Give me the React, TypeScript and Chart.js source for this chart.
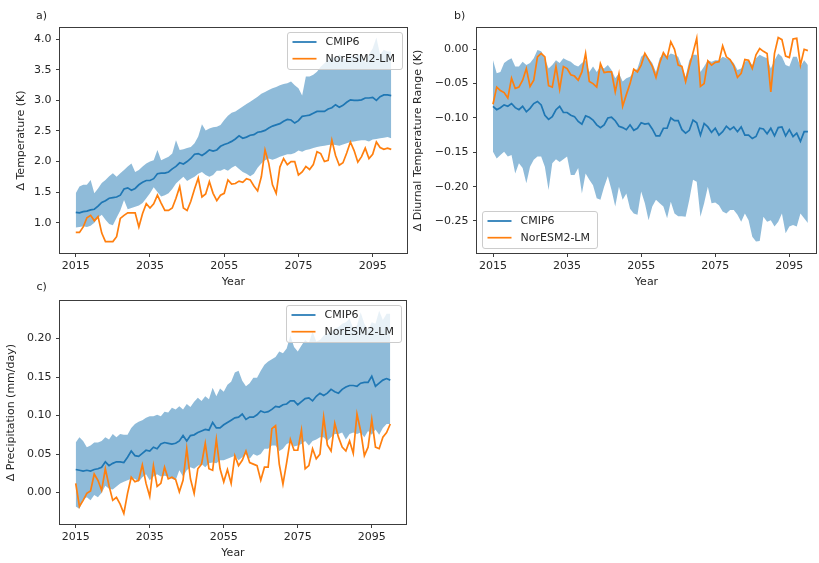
import React, { useEffect, useRef } from 'react';
import { Chart, registerables } from 'chart.js';

Chart.register(...registerables);

const FONT = 'DejaVu Sans';
const TEXT = '#262626';
const BLUE = '#1f77b4';
const ORANGE = '#ff7f0e';
const BAND = 'rgba(31,119,180,0.5)';

const YEARS = [
  2015, 2016, 2017, 2018, 2019, 2020, 2021, 2022, 2023, 2024,
  2025, 2026, 2027, 2028, 2029, 2030, 2031, 2032, 2033, 2034,
  2035, 2036, 2037, 2038, 2039, 2040, 2041, 2042, 2043, 2044,
  2045, 2046, 2047, 2048, 2049, 2050, 2051, 2052, 2053, 2054,
  2055, 2056, 2057, 2058, 2059, 2060, 2061, 2062, 2063, 2064,
  2065, 2066, 2067, 2068, 2069, 2070, 2071, 2072, 2073, 2074,
  2075, 2076, 2077, 2078, 2079, 2080, 2081, 2082, 2083, 2084,
  2085, 2086, 2087, 2088, 2089, 2090, 2091, 2092, 2093, 2094,
  2095, 2096, 2097, 2098, 2099, 2100,
];
const X_TICKS = [2015, 2035, 2055, 2075, 2095];
const LEGEND_LABELS = ['CMIP6', 'NorESM2-LM'];

// Panel a) Δ Temperature (K)
const TEMP_TICKS = [1.0, 1.5, 2.0, 2.5, 3.0, 3.5, 4.0];
const TEMP_MEAN = [
  1.17, 1.16, 1.18, 1.19, 1.21, 1.22, 1.27, 1.33, 1.36, 1.40,
  1.41, 1.42, 1.45, 1.55, 1.57, 1.53, 1.56, 1.62, 1.66, 1.69,
  1.69, 1.72, 1.80, 1.81, 1.81, 1.83, 1.88, 1.92, 1.98, 1.96,
  2.00, 2.05, 2.12, 2.13, 2.10, 2.14, 2.19, 2.17, 2.19, 2.25,
  2.28, 2.30, 2.33, 2.37, 2.42, 2.38, 2.40, 2.43, 2.44, 2.48,
  2.49, 2.51, 2.55, 2.58, 2.60, 2.62, 2.66, 2.69, 2.68, 2.63,
  2.67, 2.74, 2.75, 2.76, 2.79, 2.82, 2.82, 2.82, 2.86, 2.88,
  2.93, 2.89, 2.92, 2.97, 3.01, 3.00, 3.00, 3.01, 3.04, 3.04,
  3.05, 3.00, 3.06, 3.09, 3.09, 3.08,
];
const TEMP_HI = [
  1.48, 1.59, 1.62, 1.62, 1.70, 1.48, 1.56, 1.65, 1.70, 1.76,
  1.81, 1.75, 1.81, 1.86, 1.92, 1.97, 1.83, 1.86, 1.92, 1.97,
  2.00, 2.02, 2.19, 2.02, 2.05, 2.08, 2.13, 2.35, 2.19, 2.20,
  2.22, 2.24, 2.30, 2.41, 2.61, 2.51, 2.54, 2.56, 2.57, 2.60,
  2.68, 2.75, 2.80, 2.82, 2.86, 2.90, 2.94, 2.98, 3.02, 3.06,
  3.11, 3.14, 3.17, 3.20, 3.22, 3.25, 3.27, 3.28, 3.31, 3.25,
  3.20, 3.08, 3.39, 3.39, 3.42, 3.47, 3.55, 3.61, 3.66, 3.72,
  3.68, 3.75, 3.70, 3.66, 3.74, 3.70, 3.76, 3.72, 3.62, 3.75,
  3.85, 4.03, 3.75, 3.83, 3.80, 3.80,
];
const TEMP_LO = [
  0.92, 0.93, 0.94, 0.93, 0.95, 1.00, 1.08, 1.13, 1.05, 0.98,
  0.96, 1.08, 1.20, 1.37, 1.22, 1.24, 1.26, 1.28, 1.32, 1.40,
  1.48, 1.58, 1.50, 1.43, 1.45, 1.48, 1.55, 1.64, 1.70, 1.75,
  1.68, 1.72, 1.75, 1.80, 1.83, 1.78, 1.75, 1.78, 1.85, 1.85,
  1.88, 1.85, 1.90, 1.93, 1.88, 1.83, 1.80, 1.76, 1.80, 1.90,
  1.97, 2.02, 2.05, 2.03, 2.05, 2.08, 2.10, 2.12, 2.12, 2.14,
  2.18, 2.16, 2.19, 2.20, 2.22, 2.24, 2.25, 2.26, 2.27, 2.28,
  2.27, 2.26, 2.28, 2.30, 2.32, 2.33, 2.34, 2.35, 2.35, 2.33,
  2.36, 2.37, 2.38, 2.39, 2.40, 2.38,
];
const TEMP_NOR = [
  0.84, 0.84, 0.93, 1.08, 1.12, 1.03, 1.10, 0.83, 0.69, 0.69,
  0.69, 0.77, 1.07, 1.12, 1.16, 1.16, 1.16, 0.93, 1.15, 1.31,
  1.24, 1.31, 1.45, 1.32, 1.20, 1.20, 1.24, 1.40, 1.59, 1.24,
  1.20, 1.35, 1.55, 1.73, 1.42, 1.47, 1.67, 1.48, 1.36, 1.45,
  1.48, 1.70, 1.63, 1.64, 1.68, 1.66, 1.72, 1.70, 1.60, 1.52,
  1.75, 2.19, 1.97, 1.62, 1.48, 1.91, 2.05, 1.95, 2.00, 2.00,
  1.78, 1.83, 1.92, 1.87, 1.95, 2.16, 2.13, 2.00, 2.02, 2.35,
  2.10, 1.94, 1.98, 2.14, 2.32, 2.18, 1.99, 2.08, 2.22, 2.05,
  2.12, 2.32, 2.23, 2.20, 2.22, 2.20,
];

// Panel b) Δ Diurnal Temperature Range (K)
const DTR_TICKS = [-0.25, -0.2, -0.15, -0.1, -0.05, 0.0];
const DTR_MEAN = [
  -0.083, -0.088, -0.085, -0.081, -0.083, -0.079, -0.085, -0.088, -0.083, -0.091,
  -0.086, -0.079, -0.076, -0.081, -0.096, -0.102, -0.098, -0.088, -0.083, -0.092,
  -0.092, -0.096, -0.098, -0.105, -0.109, -0.097, -0.099, -0.103, -0.110, -0.114,
  -0.110, -0.100, -0.099, -0.104, -0.112, -0.114, -0.117, -0.110, -0.118, -0.115,
  -0.107, -0.109, -0.108, -0.116, -0.126, -0.126, -0.115, -0.115, -0.100, -0.104,
  -0.104, -0.117, -0.122, -0.118, -0.103, -0.107, -0.125, -0.108, -0.113, -0.121,
  -0.115, -0.125, -0.120, -0.112, -0.117, -0.113, -0.120, -0.113, -0.125, -0.125,
  -0.130, -0.127, -0.115, -0.116, -0.123, -0.115, -0.126, -0.114, -0.113, -0.126,
  -0.117, -0.127, -0.122, -0.134, -0.120, -0.120,
];
const DTR_HI = [
  -0.016, -0.035, -0.033, -0.020, -0.016, -0.013, -0.025, -0.025, -0.018, -0.023,
  -0.020, -0.013, -0.001, -0.003, -0.013, -0.028, -0.023, -0.016, -0.020, -0.013,
  -0.016, -0.018, -0.023, -0.025, -0.020, -0.016, -0.033, -0.025, -0.033, -0.025,
  -0.028, -0.023, -0.030, -0.042, -0.035, -0.047, -0.042, -0.040, -0.033, -0.028,
  -0.011, -0.006, -0.013, -0.020, -0.033, -0.013, -0.006, -0.011, -0.006, -0.008,
  -0.011, -0.025, -0.040, -0.016, -0.008, -0.008, -0.033, -0.025, -0.016, -0.018,
  -0.016, -0.016, -0.011, -0.013, -0.015, -0.020, -0.030, -0.028, -0.018, -0.016,
  -0.023, -0.013, -0.008, -0.011, -0.013, -0.028, -0.016, -0.006, -0.011, -0.023,
  -0.025, -0.011, -0.011, -0.025, -0.016, -0.023,
];
const DTR_LO = [
  -0.149, -0.159, -0.154, -0.149, -0.156, -0.154, -0.181, -0.166, -0.173, -0.195,
  -0.171, -0.161, -0.156, -0.156, -0.171, -0.205, -0.166, -0.160, -0.164, -0.160,
  -0.156, -0.183, -0.183, -0.173, -0.210, -0.181, -0.190, -0.198, -0.217, -0.219,
  -0.200, -0.185, -0.205, -0.229, -0.200, -0.219, -0.210, -0.232, -0.239, -0.241,
  -0.207, -0.224, -0.249, -0.229, -0.219, -0.224, -0.229, -0.246, -0.222, -0.239,
  -0.243, -0.243, -0.244, -0.219, -0.190, -0.193, -0.244, -0.224, -0.200, -0.224,
  -0.223, -0.227, -0.236, -0.239, -0.234, -0.234, -0.241, -0.251, -0.239, -0.249,
  -0.273, -0.280, -0.279, -0.244, -0.251, -0.249, -0.258, -0.251, -0.239, -0.268,
  -0.258, -0.256, -0.258, -0.239, -0.246, -0.253,
];
const DTR_NOR = [
  -0.080, -0.055, -0.060, -0.063, -0.071, -0.042, -0.057, -0.055, -0.045, -0.028,
  -0.054, -0.045, -0.011, -0.006, -0.011, -0.053, -0.055, -0.025, -0.058, -0.025,
  -0.028, -0.037, -0.039, -0.045, -0.033, -0.006, -0.047, -0.050, -0.055, -0.021,
  -0.034, -0.033, -0.033, -0.062, -0.036, -0.083, -0.066, -0.050, -0.029, -0.033,
  -0.023, -0.006, -0.015, -0.025, -0.041, -0.020, -0.005, -0.013, 0.011, 0.000,
  -0.023, -0.025, -0.047, -0.025, -0.005, 0.016, -0.054, -0.050, -0.017, -0.023,
  -0.019, -0.018, 0.005, -0.011, -0.015, -0.024, -0.041, -0.035, -0.015, -0.016,
  -0.028, -0.008, 0.001, -0.003, -0.006, -0.062, -0.006, 0.017, 0.014, -0.010,
  -0.012, 0.015, 0.016, -0.023, 0.000, -0.002,
];

// Panel c) Δ Precipitation (mm/day)
const PR_TICKS = [0.0, 0.05, 0.1, 0.15, 0.2];
const PR_MEAN = [
  0.030, 0.029, 0.028, 0.029, 0.028, 0.030, 0.031, 0.033, 0.040, 0.035,
  0.038, 0.040, 0.040, 0.039, 0.046, 0.054, 0.048, 0.047, 0.051, 0.055,
  0.054, 0.059, 0.057, 0.063, 0.065, 0.064, 0.063, 0.064, 0.067, 0.074,
  0.067, 0.074, 0.075, 0.078, 0.080, 0.082, 0.081, 0.091, 0.084, 0.084,
  0.088, 0.091, 0.094, 0.097, 0.098, 0.102, 0.095, 0.098, 0.098, 0.101,
  0.106, 0.104, 0.105, 0.108, 0.112, 0.111, 0.114, 0.115, 0.119, 0.119,
  0.114, 0.118, 0.122, 0.123, 0.119, 0.125, 0.129, 0.126, 0.129, 0.134,
  0.131, 0.129, 0.134, 0.137, 0.139, 0.139, 0.138, 0.142, 0.143, 0.143,
  0.151, 0.138, 0.142, 0.146, 0.148, 0.146,
];
const PR_HI = [
  0.065, 0.072, 0.067, 0.059, 0.061, 0.065, 0.065, 0.067, 0.072, 0.069,
  0.076, 0.072, 0.076, 0.075, 0.075, 0.084, 0.089, 0.092, 0.094, 0.097,
  0.099, 0.099, 0.101, 0.099, 0.105, 0.104, 0.110, 0.108, 0.112, 0.108,
  0.115, 0.111, 0.118, 0.123, 0.119, 0.125, 0.121, 0.136, 0.125, 0.135,
  0.131, 0.140, 0.144, 0.156, 0.158, 0.145, 0.138, 0.142, 0.149, 0.149,
  0.158, 0.166, 0.170, 0.173, 0.176, 0.183, 0.181, 0.187, 0.204, 0.189,
  0.183, 0.191, 0.198, 0.194, 0.209, 0.196, 0.198, 0.204, 0.206, 0.209,
  0.213, 0.215, 0.219, 0.221, 0.226, 0.213, 0.217, 0.234, 0.219, 0.211,
  0.221, 0.219, 0.236, 0.224, 0.232, 0.232,
];
const PR_LO = [
  -0.018, -0.021, -0.009, -0.006, -0.010, -0.003, -0.006, 0.000, 0.009, 0.005,
  0.004, 0.008, 0.012, 0.014, 0.016, 0.018, 0.018, 0.014, 0.020, 0.024,
  0.016, 0.021, 0.024, 0.021, 0.022, 0.021, 0.018, 0.016, 0.029, 0.021,
  0.029, 0.033, 0.031, 0.035, 0.037, 0.033, 0.038, 0.039, 0.038, 0.042,
  0.042, 0.044, 0.046, 0.048, 0.042, 0.046, 0.050, 0.044, 0.050, 0.048,
  0.050, 0.057, 0.057, 0.061, 0.061, 0.054, 0.057, 0.063, 0.065, 0.060,
  0.061, 0.063, 0.067, 0.061, 0.067, 0.069, 0.072, 0.072, 0.067, 0.072,
  0.076, 0.076, 0.078, 0.069, 0.076, 0.078, 0.076, 0.078, 0.072, 0.080,
  0.075, 0.082, 0.075, 0.084, 0.089, 0.089,
];
const PR_NOR = [
  0.012, -0.018, -0.010, -0.001, 0.002, 0.024, 0.016, 0.003, 0.031, 0.009,
  -0.010, -0.006, -0.015, -0.027, -0.001, 0.020, 0.014, 0.016, 0.036, 0.012,
  -0.005, 0.035, 0.008, 0.012, 0.033, 0.018, 0.020, 0.017, 0.001, 0.016,
  0.057, 0.018, -0.001, 0.031, 0.037, 0.064, 0.031, 0.029, 0.069, 0.031,
  0.014, 0.030, 0.012, 0.048, 0.035, 0.042, 0.054, 0.039, 0.037, 0.035,
  0.016, 0.033, 0.033, 0.083, 0.087, 0.037, 0.011, 0.039, 0.069, 0.055,
  0.055, 0.081, 0.031, 0.035, 0.057, 0.044, 0.050, 0.098, 0.062, 0.054,
  0.090, 0.072, 0.059, 0.054, 0.067, 0.051, 0.102, 0.080, 0.048, 0.059,
  0.095, 0.059, 0.057, 0.072, 0.078, 0.089,
];

type Box = { left: number; top: number; width: number; height: number };
type Area = { left: number; top: number; right: number; bottom: number };
type PanelCfg = {
  label: string;
  labelPos: { left: number; top: number };
  yTitle: string;
  mean: number[];
  nor: number[];
  hi: number[];
  lo: number[];
  yTicks: number[];
  yDecimals: number;
  yMin: number;
  yMax: number;
  xMin: number;
  xMax: number;
  canvas: Box;
  area: Area;
  yTitleX: number;
  xTitleY: number;
  legendPos: 'ur' | 'll';
};

const PANELS: PanelCfg[] = [
  {
    label: 'a)',
    labelPos: { left: 36, top: 8.5 },
    yTitle: 'Δ Temperature (K)',
    mean: TEMP_MEAN, nor: TEMP_NOR, hi: TEMP_HI, lo: TEMP_LO,
    yTicks: TEMP_TICKS, yDecimals: 1,
    yMin: 0.504, yMax: 4.185, xMin: 2010.75, xMax: 2104.25,
    canvas: { left: 0, top: 0, width: 410, height: 292 },
    area: { left: 60, top: 28, right: 407, bottom: 253 },
    yTitleX: 20.7, xTitleY: 282, legendPos: 'ur',
  },
  {
    label: 'b)',
    labelPos: { left: 454, top: 8.5 },
    yTitle: 'Δ Diurnal Temperature Range (K)',
    mean: DTR_MEAN, nor: DTR_NOR, hi: DTR_HI, lo: DTR_LO,
    yTicks: DTR_TICKS, yDecimals: 2,
    yMin: -0.2966, yMax: 0.031, xMin: 2010.68, xMax: 2102.2,
    canvas: { left: 410, top: 0, width: 409, height: 292 },
    area: { left: 477, top: 28, right: 816, bottom: 253 },
    yTitleX: 418.3, xTitleY: 282, legendPos: 'll',
  },
  {
    label: 'c)',
    labelPos: { left: 36.5, top: 279.5 },
    yTitle: 'Δ Precipitation (mm/day)',
    mean: PR_MEAN, nor: PR_NOR, hi: PR_HI, lo: PR_LO,
    yTicks: PR_TICKS, yDecimals: 2,
    yMin: -0.0407, yMax: 0.2485, xMin: 2010.75, xMax: 2104.25,
    canvas: { left: 0, top: 290, width: 410, height: 273 },
    area: { left: 60, top: 299, right: 406, bottom: 524 },
    yTitleX: 10.7, xTitleY: 552.7, legendPos: 'ur',
  },
];

const framePlugin = {
  id: 'mplFrame',
  afterDraw(chart: any) {
    const { ctx, chartArea: ca } = chart;
    ctx.save();
    ctx.strokeStyle = '#3c3c3c';
    ctx.lineWidth = 1;
    ctx.strokeRect(Math.round(ca.left) - 0.5, Math.round(ca.top) - 0.5,
      Math.round(ca.right - ca.left) + 1, Math.round(ca.bottom - ca.top) + 1);
    ctx.restore();
  },
};

function roundedRect(ctx: CanvasRenderingContext2D, x: number, y: number, w: number, h: number, r: number) {
  ctx.beginPath();
  ctx.moveTo(x + r, y);
  ctx.lineTo(x + w - r, y);
  ctx.quadraticCurveTo(x + w, y, x + w, y + r);
  ctx.lineTo(x + w, y + h - r);
  ctx.quadraticCurveTo(x + w, y + h, x + w - r, y + h);
  ctx.lineTo(x + r, y + h);
  ctx.quadraticCurveTo(x, y + h, x, y + h - r);
  ctx.lineTo(x, y + r);
  ctx.quadraticCurveTo(x, y, x + r, y);
  ctx.closePath();
}

function makeLegendPlugin(pos: 'ur' | 'll') {
  return {
    id: 'mplLegend',
    afterDraw(chart: any) {
      const { ctx, chartArea: ca } = chart;
      const w = 115;
      const h = 37;
      const x0 = pos === 'ur' ? Math.round(ca.right - 5.5 - w) + 0.5 : Math.round(ca.left + 5) + 0.5;
      const y0 = pos === 'ur' ? Math.round(ca.top + 4) + 0.5 : Math.round(ca.bottom - 5.5 - h) + 0.5;
      ctx.save();
      roundedRect(ctx, x0, y0, w, h, 2.5);
      ctx.fillStyle = 'rgba(255,255,255,0.8)';
      ctx.fill();
      ctx.strokeStyle = '#cccccc';
      ctx.lineWidth = 1;
      ctx.stroke();
      const colors = [BLUE, ORANGE];
      LEGEND_LABELS.forEach((t, i) => {
        const yy = y0 + 9.5 + i * 16.7;
        ctx.beginPath();
        ctx.moveTo(x0 + 5, yy);
        ctx.lineTo(x0 + 29, yy);
        ctx.strokeStyle = colors[i];
        ctx.lineWidth = 1.7;
        ctx.stroke();
        ctx.fillStyle = TEXT;
        ctx.font = `11px "${FONT}"`;
        ctx.textBaseline = 'middle';
        ctx.textAlign = 'left';
        ctx.fillText(t, x0 + 38, yy);
      });
      ctx.restore();
    },
  };
}

function Panel({ cfg }: { cfg: PanelCfg }) {
  const ref = useRef<HTMLCanvasElement>(null);
  useEffect(() => {
    const c = cfg.canvas;
    const a = cfg.area;
    const yW = a.left - c.left;
    const xH = c.top + c.height - a.bottom;
    const padTop = a.top - c.top;
    const padRight = c.left + c.width - a.right;
    const half = (11 * 1.2) / 2;
    const yTitlePad = cfg.yTitleX - c.left - half;
    const xTitlePad = c.top + c.height - cfg.xTitleY - half;
    const pts = (arr: number[]) => YEARS.map((x, i) => ({ x, y: arr[i] }));
    const font = { family: FONT, size: 11 };
    const chart = new Chart(ref.current as HTMLCanvasElement, {
      type: 'line',
      data: {
        datasets: [
          { label: LEGEND_LABELS[0], data: pts(cfg.mean), borderColor: BLUE, borderWidth: 1.7, pointRadius: 0, fill: false, order: 1 },
          { label: LEGEND_LABELS[1], data: pts(cfg.nor), borderColor: ORANGE, borderWidth: 1.7, pointRadius: 0, fill: false, order: 0 },
          { label: 'upper', data: pts(cfg.hi), borderColor: 'rgba(0,0,0,0)', borderWidth: 0, backgroundColor: BAND, pointRadius: 0, fill: '+1', order: 2 },
          { label: 'lower', data: pts(cfg.lo), borderColor: 'rgba(0,0,0,0)', borderWidth: 0, pointRadius: 0, fill: false, order: 3 },
        ],
      } as any,
      options: {
        responsive: false,
        animation: false,
        devicePixelRatio: 1,
        events: [],
        layout: { padding: { left: 0, top: padTop, right: padRight, bottom: 0 } },
        plugins: {
          legend: { display: false },
          tooltip: { enabled: false },
          filler: { drawTime: 'beforeDatasetsDraw' },
        },
        scales: {
          x: {
            type: 'linear',
            min: cfg.xMin,
            max: cfg.xMax,
            bounds: 'data',
            afterBuildTicks: (s: any) => { s.ticks = X_TICKS.map((v) => ({ value: v })); },
            afterFit: (s: any) => { s.height = xH; },
            ticks: { autoSkip: false, maxRotation: 0, padding: 3, color: TEXT, font, callback: (v: any) => String(v) },
            grid: { display: true, drawOnChartArea: false, drawTicks: true, tickLength: 4, tickColor: '#3c3c3c', tickWidth: 1 },
            border: { display: false },
            title: { display: true, text: 'Year', color: TEXT, font, padding: { top: 0, bottom: xTitlePad } },
          },
          y: {
            type: 'linear',
            min: cfg.yMin,
            max: cfg.yMax,
            bounds: 'data',
            afterBuildTicks: (s: any) => { s.ticks = cfg.yTicks.map((v) => ({ value: v })); },
            afterFit: (s: any) => { s.width = yW; },
            ticks: {
              autoSkip: false, padding: 4.5, color: TEXT, font,
              callback: (v: any) => Number(v).toFixed(cfg.yDecimals).replace('-', '\u2212'),
            },
            grid: { display: true, drawOnChartArea: false, drawTicks: true, tickLength: 4, tickColor: '#3c3c3c', tickWidth: 1 },
            border: { display: false },
            title: { display: true, text: cfg.yTitle, color: TEXT, font, padding: { top: yTitlePad, bottom: 0 } },
          },
        },
      } as any,
      plugins: [framePlugin, makeLegendPlugin(cfg.legendPos)],
    });
    return () => chart.destroy();
  }, [cfg]);
  const c = cfg.canvas;
  return (
    <canvas
      ref={ref}
      width={c.width}
      height={c.height}
      style={{ position: 'absolute', left: c.left, top: c.top, width: c.width, height: c.height }}
    />
  );
}

export default function App() {
  return (
    <div style={{ position: 'absolute', left: 0, top: 0, width: 819, height: 563, background: '#ffffff', overflow: 'hidden' }}>
      {PANELS.map((p) => <Panel key={p.label} cfg={p} />)}
      {PANELS.map((p) => (
        <div
          key={'lbl' + p.label}
          style={{ position: 'absolute', left: p.labelPos.left, top: p.labelPos.top, fontFamily: FONT, fontSize: 11, lineHeight: '13px', color: TEXT }}
        >
          {p.label}
        </div>
      ))}
    </div>
  );
}
